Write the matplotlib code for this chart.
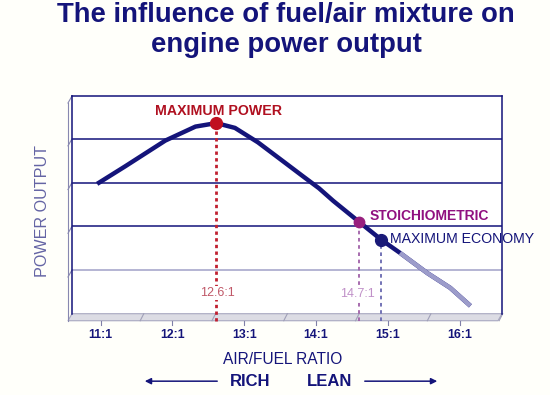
import numpy as np
import matplotlib.pyplot as plt
from matplotlib.patches import Polygon

# values (y in arbitrary power units, 0..5)
afr = [10.90, 11.29, 11.85, 12.27, 12.56, 12.82, 13.14, 13.52, 13.77, 13.99,
       14.19, 14.55, 14.86, 15.12, 15.50, 15.82, 16.10]
power = [2.97, 3.37, 3.96, 4.28, 4.36, 4.25, 3.92, 3.45, 3.14, 2.87,
         2.58, 2.10, 1.69, 1.39, 0.93, 0.59, 0.18]

tick_vals = [11, 12, 13, 14, 15, 16]
tick_labels = ['11:1', '12:1', '13:1', '14:1', '15:1', '16:1']
grid_vals = [1, 2, 3, 4]

max_power = (12.56, 4.36)
stoich = (14.55, 2.10)
max_econ = (14.86, 1.69)

title_lines = ['The influence of fuel/air mixture on', 'engine power output']

navy = '#14147a'
bg = '#fffffa'

plt.rcParams['font.family'] = ['Liberation Sans', 'DejaVu Sans']

fig = plt.figure(figsize=(5.5, 3.95), dpi=100, facecolor=bg)
ax = fig.add_axes([0.1309, 0.2058, 0.7818, 0.5512])
ax.set_facecolor('white')
ax.set_xlim(10.55, 16.54)
ax.set_ylim(0, 4.98)

for g in grid_vals:
    c = '#a0a0c8' if g == 1 else navy
    ax.axhline(g, color=c, lw=1.1, zorder=1)

# frame
for side in ['top', 'right', 'left']:
    ax.spines[side].set_color(navy)
    ax.spines[side].set_linewidth(1.1)
ax.spines['bottom'].set_visible(False)
ax.set_xticks([])
ax.set_yticks([])

# 3D floor strip and left side wall
dx = -4 / 430
dy = -7 / 217
floor = Polygon([(0, 0), (1, 0), (1 + dx, dy), (dx, dy)], closed=True,
                transform=ax.transAxes, clip_on=False,
                facecolor='#dcdce4', edgecolor='#a8a8c0', lw=0.8, zorder=0)
ax.add_patch(floor)
ax.plot([dx, dx], [dy, 1 + dy], transform=ax.transAxes, clip_on=False,
        color='#8888b0', lw=0.8)
ax.plot([dx, 0], [1 + dy, 1], transform=ax.transAxes, clip_on=False,
        color='#8888b0', lw=0.8)
for g in grid_vals:
    yf = g / 4.98
    ax.plot([dx, 0], [yf + dy, yf], transform=ax.transAxes, clip_on=False,
            color='#8888b0', lw=0.8)

trans = ax.get_xaxis_transform()
for t in tick_vals:
    ax.plot([t + 0.5, t + 0.55], [dy, 0], transform=trans, clip_on=False,
            color='#a0a0b8', lw=0.8)
for t, lab in zip(tick_vals, tick_labels):
    ax.plot([t - 0.05, t - 0.05], [dy, dy - 0.02], transform=trans,
            clip_on=False, color='#8080a8', lw=0.8)
    ax.text(t - 0.05, dy - 0.04, lab, transform=trans, ha='center', va='top',
            fontsize=8.8, fontweight='bold', color=navy)

# dashed drop lines
ax.plot([max_power[0]] * 2, [dy * 4.98, max_power[1]], color='#c02030',
        lw=2, ls=(0, (1.2, 1.2)), clip_on=False, zorder=2)
ax.plot([stoich[0]] * 2, [dy * 4.98, stoich[1]], color='#a060a8',
        lw=1.3, ls=(0, (2, 2)), clip_on=False, zorder=2)
ax.plot([max_econ[0]] * 2, [dy * 4.98, max_econ[1]], color='#6868b0',
        lw=1.3, ls=(0, (2, 2)), clip_on=False, zorder=2)

# curve
ax.plot(afr, power, color=navy, lw=3.2, solid_capstyle='butt', zorder=3)
tail = [i for i, v in enumerate(afr) if v >= 15.12]
ax.plot([afr[i] for i in tail], [power[i] for i in tail], color='#9c9cca',
        lw=3.2, solid_capstyle='butt', zorder=3)

ax.plot(*max_power, 'o', color='#c01020', ms=8.5, zorder=4)
ax.plot(*stoich, 'o', color='#98207e', ms=7.5, zorder=4)
ax.plot(*max_econ, 'o', color='#1a1a78', ms=8.5, zorder=4)

ax.text(max_power[0] + 0.03, 4.63, 'MAXIMUM POWER', ha='center', va='center',
        fontsize=10.2, fontweight='bold', color='#b01020', zorder=5)
ax.text(stoich[0] + 0.15, 2.24, 'STOICHIOMETRIC', ha='left', va='center',
        fontsize=10, fontweight='bold', color='#901080', zorder=5)
ax.text(max_econ[0] + 0.12, 1.72, 'MAXIMUM ECONOMY', ha='left', va='center',
        fontsize=10.2, color=navy, zorder=5, clip_on=False)

box = dict(boxstyle='square,pad=0.1', facecolor='white', edgecolor='none')
ax.text(max_power[0] + 0.02, 0.47, '12.6:1', ha='center', va='center',
        fontsize=9, color='#c05868', bbox=box, zorder=5)
ax.text(stoich[0] - 0.02, 0.45, '14.7:1', ha='center', va='center',
        fontsize=9, color='#c090c8', bbox=box, zorder=5)

# titles and labels
for line, yb in zip(title_lines, [0.945, 0.869]):
    fig.text(0.52, yb, line, ha='center', va='baseline', fontsize=19.8,
             fontweight='bold', color=navy)
fig.text(0.077, 0.465, 'POWER OUTPUT', rotation=90, ha='center', va='center',
         fontsize=11.6, color='#6464a4')
fig.text(0.513, 0.091, 'AIR/FUEL RATIO', ha='center', va='center',
         fontsize=11.2, color=navy)
fig.text(0.418, 0.035, 'RICH', ha='left', va='center', fontsize=12,
         fontweight='bold', color=navy)
fig.text(0.558, 0.035, 'LEAN', ha='left', va='center', fontsize=12,
         fontweight='bold', color=navy)
for start, end in [(220, 142), (362, 440)]:
    ax.annotate('', xy=(end / 550, 0.035), xytext=(start / 550, 0.035),
                xycoords='figure fraction', textcoords='figure fraction',
                annotation_clip=False,
                arrowprops=dict(arrowstyle='-|>', color=navy, lw=1.1,
                                mutation_scale=9))

fig.savefig('out.png', dpi=100, facecolor=bg)
